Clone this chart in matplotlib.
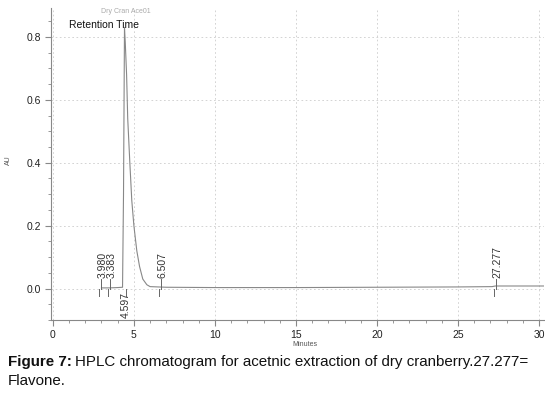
import numpy as np
import matplotlib.pyplot as plt
from matplotlib.ticker import MultipleLocator, FormatStrFormatter

plt.rcParams['font.family'] = ['Liberation Sans', 'DejaVu Sans']

# chromatogram trace (minutes, AU)
minutes = [3.0, 3.5, 4.0, 4.3, 4.36, 4.42, 4.47, 4.55, 4.62, 4.75, 4.87, 5.0,
           5.18, 5.35, 5.55, 5.8, 6.0, 7.0, 10.0, 15.0, 20.0, 25.0, 27.1, 27.3, 30.3]
au = [0.002, 0.002, 0.003, 0.004, 0.3, 0.83, 0.78, 0.68, 0.54, 0.40, 0.28, 0.20,
      0.12, 0.07, 0.03, 0.012, 0.006, 0.004, 0.003, 0.003, 0.004, 0.005, 0.006, 0.008, 0.008]

peak_times = [2.85, 3.4, 4.50, 6.55, 27.22]
peak_labels = ["3.980", "3.383", "4.597", "6.507", "27.277"]
label_below = [False, False, True, False, False]

fig = plt.figure(figsize=(5.45, 3.96), dpi=100)
ax = fig.add_axes([0.094, 0.192, 0.904, 0.788])

ax.plot(minutes, au, color="#888888", linewidth=0.8)

for t, lab, below in zip(peak_times, peak_labels, label_below):
    ax.plot([t, t], [-0.025, 0.0], color="#666666", linewidth=0.7)
    if below:
        ax.text(t, -0.012, lab, rotation=90, ha="center", va="top",
                fontsize=7.5, color="#333333")
    else:
        ax.plot([t + 0.1, t + 0.1], [0.0, 0.03], color="#666666", linewidth=0.7)
        ax.text(t + 0.2, 0.035, lab, rotation=90, ha="center", va="bottom",
                fontsize=7.5, color="#333333")

ax.set_xlim(-0.1, 30.3)
ax.set_ylim(-0.1, 0.892)
ax.xaxis.set_major_locator(MultipleLocator(5))
ax.xaxis.set_minor_locator(MultipleLocator(1))
ax.yaxis.set_major_locator(MultipleLocator(0.2))
ax.yaxis.set_minor_locator(MultipleLocator(0.05))
ax.yaxis.set_major_formatter(FormatStrFormatter("%.1f"))
ax.grid(True, which="major", color="#cccccc", linestyle=(0, (2, 3)), linewidth=0.6)
for s in ["top", "right"]:
    ax.spines[s].set_visible(False)
for s in ["left", "bottom"]:
    ax.spines[s].set_color("#888888")
    ax.spines[s].set_linewidth(0.8)
ax.tick_params(which="both", colors="#888888", labelcolor="#222222", labelsize=7.5, direction="out")
ax.tick_params(which="major", length=4)
ax.tick_params(which="minor", length=2)

fig.text(0.56, 0.131, "Minutes", fontsize=5, color="#555555", ha="center", va="center")
fig.text(0.015, 0.596, "AU", fontsize=5, color="#555555", rotation=90, ha="center", va="center")

fig.text(0.231, 0.97, "Dry Cran Ace01", fontsize=5, color="#aaaaaa", ha="center", va="center")
fig.text(0.191, 0.938, "Retention Time", fontsize=7.5, color="#111111", ha="center", va="center")

# caption
fig.canvas.draw()
bold = fig.text(0.015, 0.087, "Figure 7:", fontsize=10.9, fontweight="bold", color="#111111", va="center")
bb = bold.get_window_extent(renderer=fig.canvas.get_renderer())
fig.text(bb.x1 / fig.bbox.width + 0.006, 0.087,
         "HPLC chromatogram for acetnic extraction of dry cranberry.27.277=",
         fontsize=10.9, color="#111111", va="center")
fig.text(0.015, 0.038, "Flavone.", fontsize=10.9, color="#111111", va="center")

fig.savefig("out.png", dpi=100)
